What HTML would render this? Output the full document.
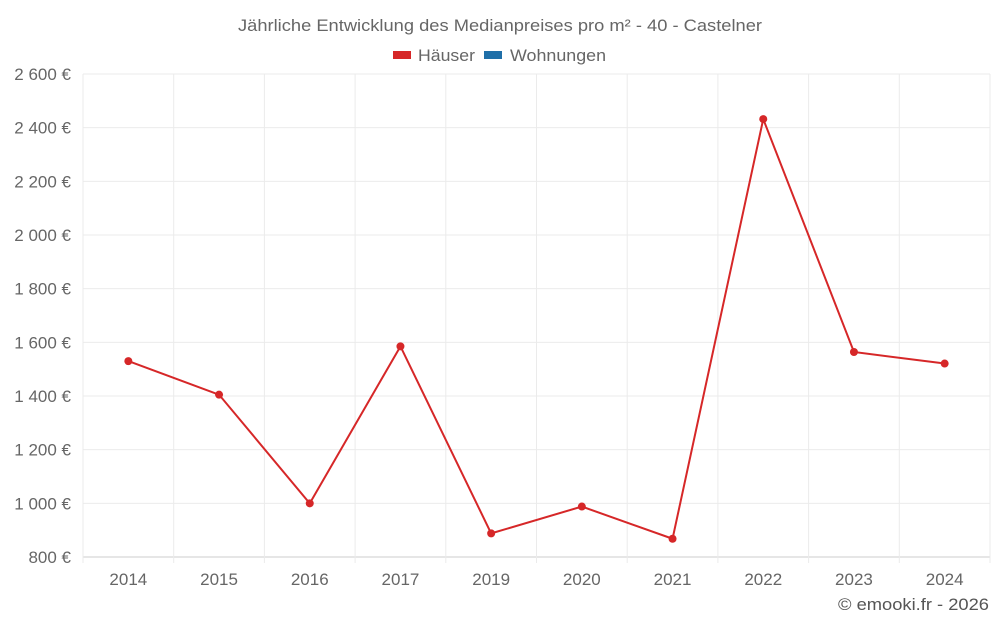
<!DOCTYPE html>
<html><head><meta charset="utf-8"><style>
body{margin:0;background:#fff;font-family:"Liberation Sans",sans-serif;}
</style></head><body>
<svg width="1000" height="625" xmlns="http://www.w3.org/2000/svg">
<text x="500" y="31" text-anchor="middle" font-size="17" fill="#666" textLength="524" lengthAdjust="spacingAndGlyphs">Jährliche Entwicklung des Medianpreises pro m² - 40 - Castelner</text>
<g>
<rect x="393" y="51" width="18" height="8" fill="#d62728"/>
<text x="418" y="61" font-size="17" fill="#666" textLength="57" lengthAdjust="spacingAndGlyphs">Häuser</text>
<rect x="484" y="51" width="18" height="8" fill="#1f6fa8"/>
<text x="510" y="61" font-size="17" fill="#666" textLength="96" lengthAdjust="spacingAndGlyphs">Wohnungen</text>
</g>
<g id="grid"></g><g id="axes"></g><g id="series"></g>
<text x="989" y="610" text-anchor="end" font-size="17" fill="#555" textLength="151" lengthAdjust="spacingAndGlyphs">© emooki.fr - 2026</text>
</svg>
<script>
const categories=["2014","2015","2016","2017","2019","2020","2021","2022","2023","2024"];
const hauserValues=[1530,1405,1000,1585,888,988,868,2432,1564,1521];
const yTicks=[800,1000,1200,1400,1600,1800,2000,2200,2400,2600];
const NS="http://www.w3.org/2000/svg";
const L=83,R=990,T=74,B=557,yMin=800,yMax=2600;
const bw=(R-L)/categories.length;
const xS=i=>L+bw*(i+0.5);
const yS=v=>B-(v-yMin)/(yMax-yMin)*(B-T);
function mk(tag,attrs,parent){const e=document.createElementNS(NS,tag);for(const k in attrs)e.setAttribute(k,attrs[k]);parent.appendChild(e);return e;}
const grid=document.getElementById('grid'),axes=document.getElementById('axes'),ser=document.getElementById('series');
const fmt=v=>{const s=String(v);return (s.length>3?s.slice(0,-3)+' '+s.slice(-3):s)+' €';};
yTicks.forEach(v=>{
 const y=yS(v);
 const l=mk('line',{x1:L,x2:R,y1:y,y2:y,stroke:v===yMin?'#ccc':'#ebebeb'},grid);
 
 
 const t=mk('text',{x:71,y:y+6,'text-anchor':'end','font-size':17,fill:'#666'},axes);
 t.textContent=fmt(v);
 
 
});
for(let i=0;i<=categories.length;i++){
 const x=L+bw*i;
 const l=mk('line',{x1:x,x2:x,y1:T,y2:B+6,stroke:'#ebebeb'},grid);
 
 
}
categories.forEach((c,i)=>{
 const t=mk('text',{x:xS(i),y:585,'text-anchor':'middle','font-size':17,fill:'#666'},axes);
 t.textContent=c;
 
 
});
const pts=hauserValues.map((v,i)=>xS(i)+','+yS(v)).join(' ');
const pl=mk('polyline',{points:pts,fill:'none',stroke:'#d62728','stroke-width':2},ser);


hauserValues.forEach((v,i)=>{
 const c=mk('circle',{cx:xS(i),cy:yS(v),r:4,fill:'#d62728'},ser);
 
 
});
</script>
</body></html>
